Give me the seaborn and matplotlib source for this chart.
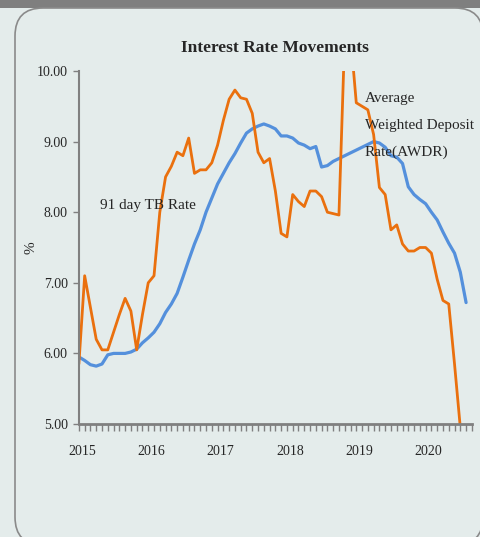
import numpy as np
import pandas as pd
import seaborn as sns
import matplotlib.pyplot as plt
from matplotlib.patches import FancyBboxPatch, Rectangle

# monthly values, Jan 2015 onwards
awdr = [5.95, 5.90, 5.84, 5.82, 5.85, 5.98, 6.00, 6.00, 6.00, 6.02, 6.06, 6.15,
        6.22, 6.30, 6.42, 6.58, 6.70, 6.85, 7.08, 7.32, 7.55, 7.75, 8.00, 8.20,
        8.40, 8.55, 8.70, 8.83, 8.98, 9.12, 9.18, 9.22, 9.25, 9.22, 9.18, 9.08,
        9.08, 9.05, 8.98, 8.95, 8.90, 8.93, 8.64, 8.66, 8.72, 8.76, 8.80, 8.84,
        8.88, 8.92, 8.96, 9.00, 8.98, 8.92, 8.80, 8.78, 8.69, 8.36, 8.25, 8.18,
        8.12, 8.00, 7.89, 7.72, 7.56, 7.42, 7.15, 6.72]
tb91 = [5.85, 7.10, 6.65, 6.20, 6.05, 6.05, 6.30, 6.55, 6.78, 6.60, 6.05, 6.55,
        7.00, 7.10, 8.00, 8.50, 8.65, 8.85, 8.80, 9.05, 8.55, 8.60, 8.60, 8.70,
        8.95, 9.30, 9.60, 9.73, 9.62, 9.60, 9.40, 8.85, 8.70, 8.76, 8.30, 7.70,
        7.65, 8.25, 8.15, 8.08, 8.30, 8.30, 8.22, 8.00, 7.98, 7.96, 10.50, 10.50,
        9.55, 9.50, 9.45, 9.10, 8.35, 8.25, 7.75, 7.82, 7.55, 7.45, 7.45, 7.50,
        7.50, 7.42, 7.05, 6.75, 6.70, 5.85, 4.95]
years = ["2015", "2016", "2017", "2018", "2019", "2020"]

df_awdr = pd.DataFrame({"month": np.arange(len(awdr)), "rate": awdr})
df_tb = pd.DataFrame({"month": np.arange(len(tb91)), "rate": tb91})

sns.set_style("ticks")
plt.rcParams["font.family"] = ["Liberation Serif", "DejaVu Serif"]

panel = "#e4eceb"
fig = plt.figure(figsize=(4.81, 5.37), dpi=100)
fig.patch.set_facecolor(panel)

# frame drawn in pixel coordinates
bg = fig.add_axes([0, 0, 1, 1], zorder=0)
bg.set_xlim(0, 481)
bg.set_ylim(537, 0)
bg.axis("off")
bg.add_patch(Rectangle((0, 0), 481, 8, color="#7f7f7f", lw=0))
bg.add_patch(FancyBboxPatch((15, 8), 468, 537, boxstyle="round,pad=0,rounding_size=28",
                            fc=panel, ec="#8a8a8a", lw=1.2))

ax = fig.add_axes([0.164, 0.2104, 0.817, 0.6574], zorder=1)
ax.set_facecolor("none")

sns.lineplot(data=df_awdr, x="month", y="rate", ax=ax, color="#5490dc", lw=2.3)
sns.lineplot(data=df_tb, x="month", y="rate", ax=ax, color="#ea700e", lw=2.0)

ax.set_xlim(0, 68)
ax.set_ylim(5, 10)
ax.set_yticks(range(5, 11))
ax.set_yticklabels([f"{v:.2f}" for v in range(5, 11)], fontsize=10)
ax.set_xticks([0.5 + 12 * i for i in range(len(years))])
ax.set_xticklabels(years, fontsize=10)
ax.set_xticks(np.arange(0, 69), minor=True)
ax.tick_params(axis="x", which="major", length=0, pad=15)
ax.tick_params(axis="x", which="minor", length=5, width=1, color="#808080", direction="out")
ax.tick_params(axis="y", length=4, width=1, color="#808080", pad=4)

sns.despine(ax=ax)
ax.spines["left"].set_color("#808080")
ax.spines["left"].set_linewidth(1.5)
ax.spines["bottom"].set_color("#808080")
ax.spines["bottom"].set_linewidth(2)

ax.set_xlabel("")
ax.set_ylabel("%", fontsize=11)
ax.yaxis.set_label_coords(-0.105, 0.5)
ax.set_title("Interest Rate Movements", fontsize=12.5, fontweight="bold", pad=14)

ax.text(3.6, 8.1, "91 day TB Rate", fontsize=11, va="center", ha="left")
ax.text(49.5, 9.7, "Average\nWeighted Deposit\nRate(AWDR)", fontsize=11,
        va="top", ha="left", linespacing=2.35)

fig.savefig("out.png", dpi=100, facecolor=fig.get_facecolor())
